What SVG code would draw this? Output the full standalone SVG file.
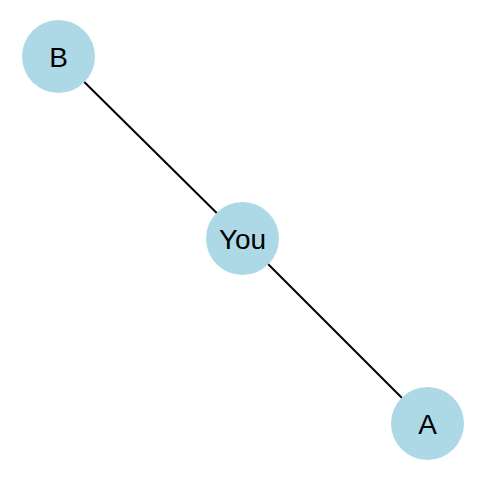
<svg xmlns="http://www.w3.org/2000/svg" width="484" height="481" viewBox="0 0 484 481">
<style>
.node circle{fill:#ADD8E6;}
.node text{font-family:"Liberation Sans",Arial,sans-serif;font-size:28px;fill:#000;text-anchor:middle;}
.edge{stroke:#000;stroke-width:2;fill:none;}
</style>
<rect width="484" height="481" fill="#fff"/>
<g id="edges">
<line class="edge" x1="58.5" y1="56.5" x2="242.5" y2="238.5"/>
<line class="edge" x1="242.5" y1="238.5" x2="427.5" y2="423.5"/>
</g>
<g id="node-B" class="node"><circle cx="58.5" cy="56.5" r="36.5"/><text x="58.5" y="66.5">B</text></g>
<g id="node-You" class="node"><circle cx="242.5" cy="238.5" r="36.5"/><text x="242.5" y="248.5">You</text></g>
<g id="node-A" class="node"><circle cx="427.5" cy="423.5" r="36.5"/><text x="427.5" y="433.5">A</text></g>
</svg>
